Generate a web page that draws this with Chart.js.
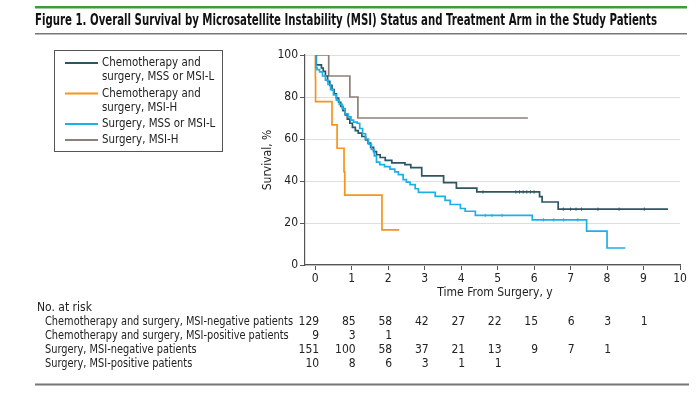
<!DOCTYPE html>
<html>
<head>
<meta charset="utf-8">
<script src="https://cdn.jsdelivr.net/npm/chart.js@4.4.0/dist/chart.umd.min.js"></script>
<style>
  html, body { margin: 0; padding: 0; background: #fff; }
  #wrap { width: 700px; height: 394px; }
</style>
</head>
<body>
<div id="wrap"><canvas id="kmChart" width="700" height="394"></canvas></div>
<script>
// Ejes
const xTicks = [0, 1, 2, 3, 4, 5, 6, 7, 8, 9, 10];
const yTicks = [0, 20, 40, 60, 80, 100];

// Curvas de Kaplan-Meier (tiempo en años, supervivencia en %)
const chemoMssTime = [0, 0.03, 0.17, 0.22, 0.28, 0.34, 0.40, 0.46, 0.52, 0.58, 0.64, 0.70, 0.76, 0.82, 0.88, 0.95, 1.02, 1.10, 1.18, 1.28, 1.38, 1.45, 1.52, 1.60, 1.68, 1.78, 1.92, 2.10, 2.46, 2.62, 2.92, 3.52, 3.87, 4.43, 6.15, 6.22, 6.66, 9.67];
const chemoMssSurv = [100, 95.3, 93.8, 92.2, 90, 87.5, 85.5, 83.5, 81.5, 79.5, 77.5, 75.5, 73.5, 71.5, 69.5, 67.5, 65.5, 64, 62.8, 61.2, 59.6, 58, 56, 54, 52.5, 51.2, 49.8, 48.6, 47.8, 46.4, 42.4, 39.2, 36.6, 34.8, 32.6, 30, 26.6, 26.6];
const chemoMssCensor = [4.6, 5.5, 5.6, 5.7, 5.8, 5.9, 6.0, 6.8, 7.0, 7.15, 7.3, 7.75, 8.33, 9.02];

const chemoMsiTime = [0, 0.005, 0.01, 0.46, 0.60, 0.79, 0.81, 1.83, 2.30];
const chemoMsiSurv = [100, 88.9, 77.8, 66.7, 55.6, 44.4, 33.3, 16.7, 16.7];

const surgMssTime = [0, 0.02, 0.05, 0.12, 0.20, 0.28, 0.35, 0.42, 0.50, 0.58, 0.66, 0.74, 0.82, 0.90, 0.98, 1.05, 1.15, 1.22, 1.30, 1.38, 1.46, 1.54, 1.62, 1.68, 1.77, 1.90, 2.05, 2.18, 2.28, 2.41, 2.50, 2.60, 2.74, 2.83, 3.29, 3.56, 3.70, 3.98, 4.11, 4.39, 5.95, 7.44, 8.00, 8.50];
const surgMssSurv = [100, 94, 93, 92, 90, 88, 86, 83.5, 81, 78.5, 76.5, 74.5, 72, 70.5, 69, 68, 67.5, 65, 62.5, 60, 57.5, 55, 52, 49, 47.8, 46.8, 45.7, 44.3, 43, 40.7, 39.5, 38.3, 36.3, 34.6, 32.7, 30.8, 28.8, 26.9, 25.6, 23.6, 21.5, 16.1, 8.1, 8.1];
const surgMssCensor = [4.66, 4.85, 5.12, 6.26, 6.54, 6.81, 7.2];

const surgMsiTime = [0, 0.37, 0.95, 1.17, 5.83];
const surgMsiSurv = [100, 90, 80, 70, 70];

// Leyenda (una línea por renglón)
const legendLabels = [
    ['Chemotherapy and', 'surgery, MSS or MSI-L'],
    ['Chemotherapy and', 'surgery, MSI-H'],
    ['Surgery, MSS or MSI-L'],
    ['Surgery, MSI-H']
];
const seriesColors = ['#2d5562', '#f7941d', '#1cb0ea', '#8e8078'];

// Tabla de pacientes en riesgo
const riskRowLabels = [
    'Chemotherapy and surgery, MSI-negative patients',
    'Chemotherapy and surgery, MSI-positive patients',
    'Surgery, MSI-negative patients',
    'Surgery, MSI-positive patients'
];
const riskChemoMss = [129, 85, 58, 42, 27, 22, 15, 6, 3, 1];
const riskChemoMsi = [9, 3, 1];
const riskSurgMss = [151, 100, 58, 37, 21, 13, 9, 7, 1];
const riskSurgMsi = [10, 8, 6, 3, 1, 1];

const FONT = '"Liberation Sans Narrow", "DejaVu Sans Condensed", "Liberation Sans", sans-serif';

function toPoints(times, surv) {
    return times.map((t, i) => ({ x: t, y: surv[i] }));
}

// valor de la curva escalonada en el tiempo t (para las marcas de censura)
function survAt(times, surv, t) {
    let s = surv[0];
    for (let i = 0; i < times.length; i++) {
        if (times[i] <= t) s = surv[i];
    }
    return s;
}

// texto un poco más estrecho que la fuente natural
function fillNarrow(ctx, txt, x, y, factor) {
    ctx.fillText(txt, x, y, ctx.measureText(txt).width * factor);
}

// Títulos, leyenda y tabla se dibujan a mano sobre el canvas
const figureText = {
    id: 'figureText',
    afterDraw(chart) {
        const ctx = chart.ctx;
        const xs = chart.scales.x;
        const area = chart.chartArea;
        ctx.save();

        // líneas de cabecera y pie
        ctx.fillStyle = '#3f9a3c';
        ctx.fillRect(35, 6, 652, 2.5);
        ctx.fillStyle = '#777';
        ctx.fillRect(35, 33, 652, 1.5);
        ctx.fillRect(35, 383.5, 654, 2);

        // título
        ctx.fillStyle = '#111';
        ctx.textBaseline = 'alphabetic';
        ctx.textAlign = 'left';
        ctx.font = 'bold 15px ' + FONT;
        ctx.fillText('Figure 1. Overall Survival by Microsatellite Instability (MSI) Status and Treatment Arm in the Study Patients', 35, 25, 622);

        // leyenda
        ctx.strokeStyle = '#555';
        ctx.lineWidth = 1;
        ctx.strokeRect(54.5, 50.5, 168, 101);
        ctx.font = '12px ' + FONT;
        ctx.textBaseline = 'middle';
        const legendRows = [[63, 77], [93.5, 108], [124], [140]];
        legendLabels.forEach((lines, i) => {
            ctx.strokeStyle = seriesColors[i];
            ctx.lineWidth = 1.8;
            ctx.beginPath();
            ctx.moveTo(65, legendRows[i][0]);
            ctx.lineTo(98, legendRows[i][0]);
            ctx.stroke();
            ctx.fillStyle = '#222';
            lines.forEach((txt, j) => fillNarrow(ctx, txt, 102, legendRows[i][j], 0.95));
        });

        // títulos de ejes
        ctx.fillStyle = '#222';
        ctx.font = '12px ' + FONT;
        ctx.textAlign = 'center';
        ctx.fillText('Time From Surgery, y', 495, 293);
        ctx.save();
        ctx.translate(268, (area.top + area.bottom) / 2);
        ctx.rotate(-Math.PI / 2);
        ctx.fillText('Survival, %', 0, 0);
        ctx.restore();

        // tabla "No. at risk"
        ctx.textAlign = 'left';
        ctx.fillText('No. at risk', 37, 308);
        const rows = [riskChemoMss, riskChemoMsi, riskSurgMss, riskSurgMsi];
        const rowY = [322, 336, 350, 364];
        // la etiqueta más larga termina justo antes de la primera columna
        const labelFactor = 248 / ctx.measureText(riskRowLabels[0]).width;
        rows.forEach((vals, r) => {
            ctx.textAlign = 'left';
            fillNarrow(ctx, riskRowLabels[r], 45, rowY[r], labelFactor);
            ctx.textAlign = 'right';
            vals.forEach((v, i) => {
                ctx.fillText(String(v), xs.getPixelForValue(xTicks[i]) + 4, rowY[r]);
            });
        });

        ctx.restore();
    }
};

function makeDataset(times, surv, color) {
    return {
        data: toPoints(times, surv),
        borderColor: color,
        borderWidth: 1.7,
        stepped: 'before',
        pointRadius: 0,
        fill: false
    };
}

function makeCensor(censor, times, surv, color) {
    return {
        data: censor.map(t => ({ x: t, y: survAt(times, surv, t) })),
        showLine: false,
        pointStyle: 'line',
        rotation: 90,
        pointRadius: 1.6,
        borderWidth: 1,
        borderColor: color,
        pointBorderColor: color
    };
}

const ctx = document.getElementById('kmChart').getContext('2d');
new Chart(ctx, {
    type: 'line',
    data: {
        datasets: [
            makeDataset(surgMssTime, surgMssSurv, seriesColors[2]),
            makeCensor(surgMssCensor, surgMssTime, surgMssSurv, seriesColors[2]),
            makeDataset(chemoMssTime, chemoMssSurv, seriesColors[0]),
            makeCensor(chemoMssCensor, chemoMssTime, chemoMssSurv, seriesColors[0]),
            makeDataset(surgMsiTime, surgMsiSurv, seriesColors[3]),
            makeDataset(chemoMsiTime, chemoMsiSurv, seriesColors[1])
        ]
    },
    options: {
        responsive: false,
        animation: false,
        layout: {
            autoPadding: false,
            padding: { left: 250, right: 20, top: 55, bottom: 0 }
        },
        plugins: {
            legend: { display: false },
            tooltip: { enabled: false }
        },
        scales: {
            x: {
                type: 'linear',
                min: -0.28,
                max: 10,
                afterFit: (scale) => { scale.height = 129; },
                afterBuildTicks: (scale) => { scale.ticks = xTicks.map(v => ({ value: v })); },
                grid: { drawOnChartArea: false, drawTicks: true, tickLength: 5, tickColor: '#555' },
                border: { color: '#555', width: 1.2 },
                ticks: { color: '#222', padding: 2, maxRotation: 0, font: { family: FONT, size: 12 } }
            },
            y: {
                min: 0,
                max: 100,
                afterFit: (scale) => { scale.width = 55; },
                afterBuildTicks: (scale) => { scale.ticks = yTicks.map(v => ({ value: v })); },
                grid: { color: '#dedede', lineWidth: 1, drawTicks: true, tickLength: 5, tickColor: '#555' },
                border: { color: '#555', width: 1.2 },
                ticks: { color: '#222', padding: 2, font: { family: FONT, size: 12 } }
            }
        }
    },
    plugins: [figureText]
});
</script>
</body>
</html>
